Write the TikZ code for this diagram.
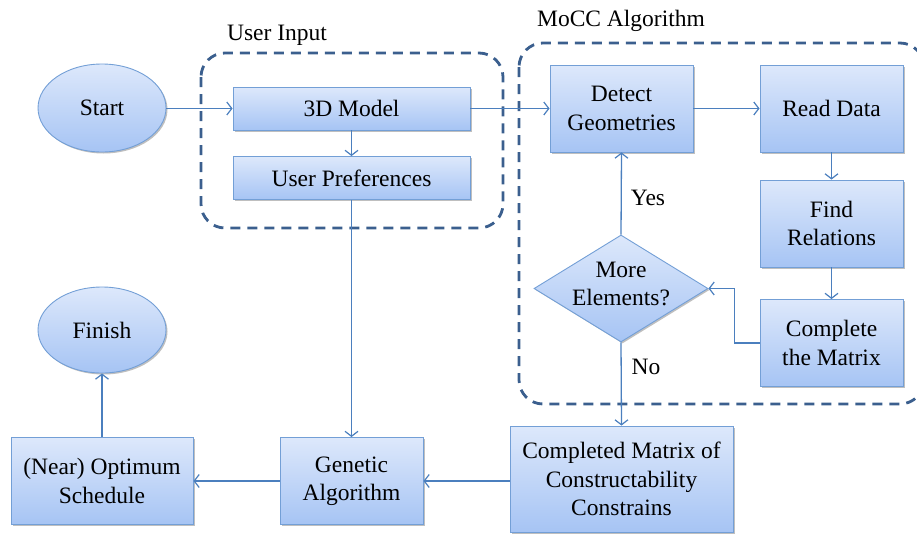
\documentclass[tikz,border=0pt]{standalone}
\usepackage{fontspec}
\setmainfont{Liberation Serif}
\usetikzlibrary{arrows.meta,shapes.geometric,shadows}

\definecolor{boxtop}{HTML}{DDE8FB}
\definecolor{boxbot}{HTML}{A6C4F4}
\definecolor{boxline}{HTML}{739FD6}
\definecolor{flow}{HTML}{4B7FBE}
\definecolor{groupline}{HTML}{3B5F8E}

\tikzset{
  base/.style={draw=boxline, line width=0.9pt, top color=boxtop, bottom color=boxbot,
    align=center, inner sep=0pt, font=\fontsize{23.5}{28.5}\selectfont,
    drop shadow={shadow xshift=1.5pt, shadow yshift=-1.5pt, opacity=0.25, fill=black}},
  procbox/.style={base, rectangle},
  terminal/.style={base, ellipse},
  decision/.style={base, diamond},
  flowline/.style={draw=flow, line width=1.3pt, -{Straight Barb[length=5pt,width=13pt,line width=1.2pt]}},
  group/.style={draw=groupline, line width=2.8pt, dash pattern=on 10pt off 7pt, rounded corners=24pt},
  lbl/.style={font=\fontsize{23.5}{28.5}\selectfont, inner sep=0pt, align=center}
}

\begin{document}
\begin{tikzpicture}[x=1pt, y=-1pt]
\useasboundingbox (0,0) rectangle (917,533);

% grouping frames
\draw[group] (201,53) rectangle (503,228);
\draw[group] (519,43) rectangle (924,404);
\node[lbl] (ui) at (277,35) {User Input};
\node[lbl] (mocc) at (621,21) {MoCC Algorithm};

% nodes
\node[terminal, minimum width=128pt, minimum height=88pt] (start) at (102,108) {Start};
\node[procbox, minimum width=237pt, minimum height=43pt] (model) at (351.5,108.5) {3D Model};
\node[procbox, minimum width=237pt, minimum height=43pt] (pref) at (351.5,178) {User Preferences};
\node[procbox, minimum width=143pt, minimum height=87pt] (detect) at (621.5,108.5) {Detect\\Geometries};
\node[procbox, minimum width=143pt, minimum height=87pt] (read) at (831.5,108.5) {Read Data};
\node[procbox, minimum width=143pt, minimum height=87pt] (find) at (831.5,223.5) {Find\\Relations};
\node[procbox, minimum width=143pt, minimum height=87pt] (complete) at (831.5,343) {Complete\\the Matrix};
% decision: the text sits slightly above the diamond's centre
\node[decision, minimum width=174pt, minimum height=107pt, aspect=1.63] (more) at (621,288.5) {};
\node[lbl] (moretext) at (621,284) {More\\Elements?};
\node[procbox, minimum width=223pt, minimum height=106pt] (cmc) at (621.5,479) {Completed Matrix of\\Constructability\\Constrains};
\node[procbox, minimum width=143pt, minimum height=87pt] (ga) at (351.5,481) {Genetic\\Algorithm};
\node[procbox, minimum width=182pt, minimum height=87pt] (near) at (102,481) {(Near) Optimum\\Schedule};
\node[terminal, minimum width=128pt, minimum height=86pt] (finish) at (102,330) {Finish};

% connectors
\draw[flowline] (start.east |- model) -- (model.west);
\draw[flowline] (model.east) -- (detect.west);
\draw[flowline] (model) -- (pref);
\draw[flowline] (pref) -- (ga);
\draw[flowline] (detect) -- (read);
\draw[flowline] (read) -- (find);
\draw[flowline] (find) -- (complete);
\draw[flowline] (complete.west) -- ++(-25,0) |- (more.east);
\draw[flowline] (more.north) -- (detect.south);
\draw[flowline] (more.south) -- (cmc.north);
\draw[flowline] (ga.east -| cmc.west) -- (ga.east);
\draw[flowline] (ga.west) -- (near.east);
\draw[flowline] (near.north) -- (finish.south);

% branch labels
\node[lbl] (yes) at (648,198) {Yes};
\node[lbl] (no) at (646,367) {No};
\end{tikzpicture}
\end{document}
